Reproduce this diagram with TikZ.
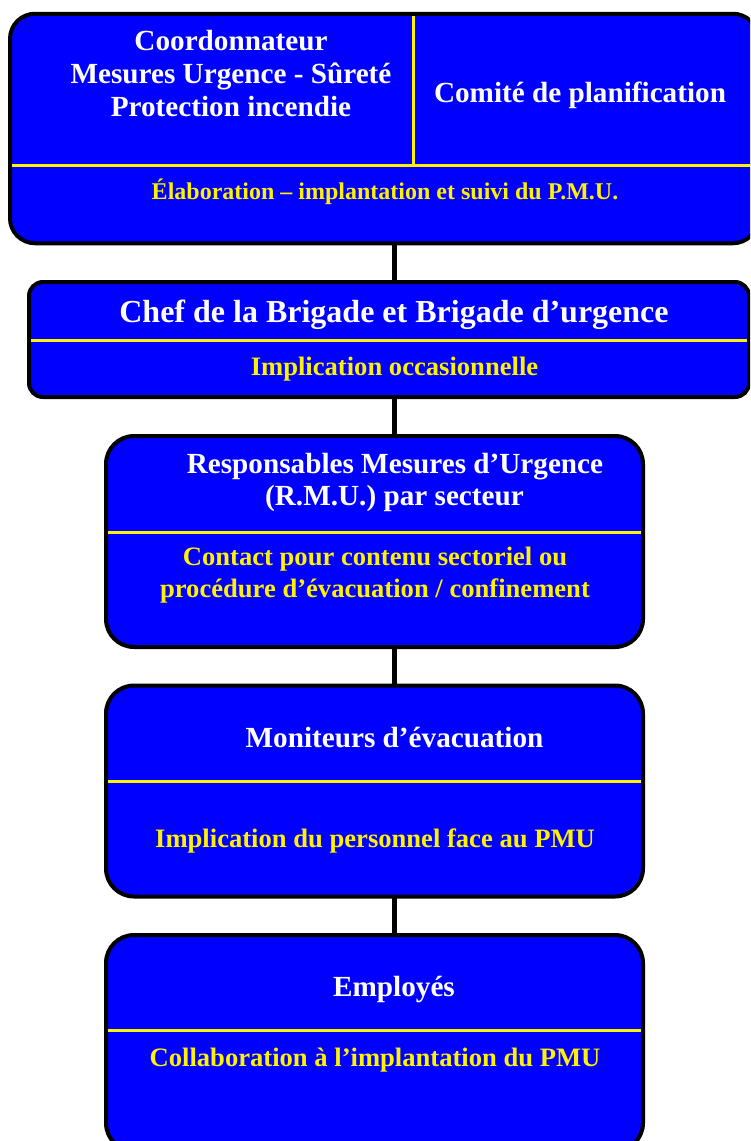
\documentclass[tikz,border=0pt]{standalone}
\usepackage{fontspec}
\setmainfont{Liberation Serif}
\begin{document}
\begin{tikzpicture}[x=1pt,y=-1pt,
  box/.style={draw=black, line width=4pt, fill=blue, rectangle, inner sep=0pt, outer sep=0pt},
  divider/.style={draw=yellow, line width=3pt},
  conn/.style={draw=black, line width=5pt},
  title/.style={text=white, anchor=base, inner sep=0pt, font=\bfseries\fontsize{29.2}{33}\selectfont},
  bigtitle/.style={title, font=\bfseries\fontsize{32}{36}\selectfont},
  note/.style={text=yellow, anchor=base, inner sep=0pt, font=\bfseries\fontsize{26.6}{32}\selectfont},
  smallnote/.style={note, font=\bfseries\fontsize{24}{28}\selectfont}]
\useasboundingbox (0,0) rectangle (750,1141);
\clip (0,0) rectangle (750,1141);

% spine of the chart
\coordinate (spine) at (394,0);

% boxes
\node[box, rounded corners=25pt, minimum width=748pt, minimum height=229.5pt] (b1) at (384,128.5) {};
\node[box, rounded corners=14pt, minimum width=720pt, minimum height=115pt] (b2) at (389,339.5) {};
\node[box, rounded corners=28pt, minimum width=537pt, minimum height=211pt] (b3) at (374.5,541.5) {};
\node[box, rounded corners=28pt, minimum width=537pt, minimum height=211pt] (b4) at (374.5,791) {};
\node[box, rounded corners=28pt, minimum width=537pt, minimum height=216pt] (b5) at (374.5,1043) {};

% connectors
\draw[conn] (b1.south -| spine) -- (b2.north -| spine);
\draw[conn] (b2.south -| spine) -- (b3.north -| spine);
\draw[conn] (b3.south -| spine) -- (b4.north -| spine);
\draw[conn] (b4.south -| spine) -- (b5.north -| spine);

% yellow dividers
\draw[divider] (12,165.5) -- (756,165.5);
\draw[divider] (413.5,16) -- (413.5,165.5);
\draw[divider] (31,340) -- (747,340);
\draw[divider] (108,532) -- (641,532);
\draw[divider] (108,781) -- (641,781);
\draw[divider] (108,1030.5) -- (641,1030.5);

% box 1
\node[title] (t1a) at (231,50) {Coordonnateur};
\node[title] (t1b) at (231,83) {Mesures Urgence - Sûreté};
\node[title] (t1c) at (231,116.5) {Protection incendie};
\node[title] (t1d) at (580,102) {Comité de planification};
\node[smallnote] (n1) at (385,199) {Élaboration – implantation et suivi du P.M.U.};

% box 2
\node[bigtitle] (t2) at (394,322) {Chef de la Brigade et Brigade d’urgence};
\node[note] (n2) at (394.5,375) {Implication occasionnelle};

% box 3
\node[title] (t3a) at (395,473) {Responsables Mesures d’Urgence};
\node[title] (t3b) at (394.5,505.5) {(R.M.U.) par secteur};
\node[note] (n3a) at (375,565) {Contact pour contenu sectoriel ou};
\node[note] (n3b) at (375,597) {procédure d’évacuation / confinement};

% box 4
\node[title] (t4) at (394.5,747) {Moniteurs d’évacuation};
\node[note] (n4) at (375,847) {Implication du personnel face au PMU};

% box 5
\node[title] (t5) at (394,996) {Employés};
\node[note] (n5) at (375,1066) {Collaboration à l’implantation du PMU};
\end{tikzpicture}
\end{document}
